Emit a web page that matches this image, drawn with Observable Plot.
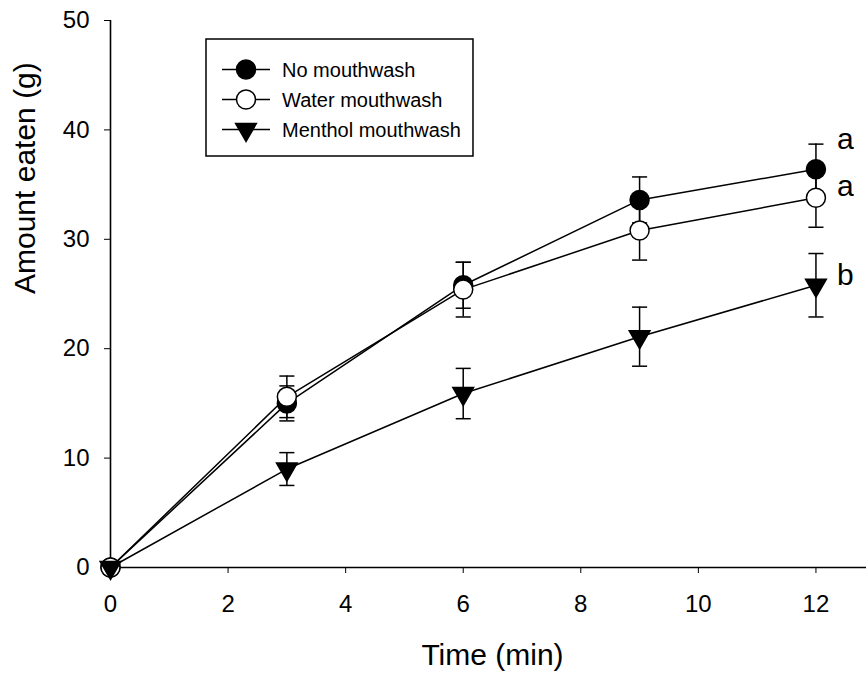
<!DOCTYPE html>
<html><head><meta charset="utf-8">
<script src="https://cdn.jsdelivr.net/npm/d3@7"></script>
<script src="https://cdn.jsdelivr.net/npm/@observablehq/plot@0.6"></script>
<style>body{margin:0;background:#fff;} svg{display:block;}</style>
</head><body><div id="chart"></div>
<script>
// ---- data ----
const times = [0, 3, 6, 9, 12];
const seriesNames = ["No mouthwash", "Water mouthwash", "Menthol mouthwash"];
const noMouthwash      = [0, 15.0, 25.8, 33.6, 36.4];
const noMouthwashSE    = [0, 1.6, 2.1, 2.1, 2.3];
const waterMouthwash   = [0, 15.6, 25.4, 30.8, 33.8];
const waterMouthwashSE = [0, 1.9, 2.5, 2.7, 2.7];
const mentholMouthwash   = [0, 9.0, 15.9, 21.1, 25.8];
const mentholMouthwashSE = [0, 1.5, 2.3, 2.7, 2.9];
const sigLetters = ["a", "a", "b"];
const xTicks = [0, 2, 4, 6, 8, 10, 12];
const yTicks = [0, 10, 20, 30, 40, 50];
const xDomain = [0, 12.86];
const yDomain = [0, 50];
const xLabel = "Time (min)";
const yLabel = "Amount eaten (g)";

// ---- build table ----
const means = [noMouthwash, waterMouthwash, mentholMouthwash];
const ses = [noMouthwashSE, waterMouthwashSE, mentholMouthwashSE];
const data = seriesNames.flatMap((s, i) => times.map((t, j) => ({series: s, t, mean: means[i][j], se: ses[i][j]})));
const last = times.length - 1;
const lastPoints = seriesNames.map((s, i) => ({series: s, t: times[last], mean: means[i][last], letter: sigLetters[i]}));

const downTriangle = {draw(ctx, size) {
  const y = Math.sqrt(size / (3 * Math.sqrt(3)));
  ctx.moveTo(0, 2 * y); ctx.lineTo(-Math.sqrt(3) * y, -y); ctx.lineTo(Math.sqrt(3) * y, -y); ctx.closePath();
}};
const capSymbol = {draw(ctx, size) {
  const w = Math.sqrt(size);
  ctx.moveTo(-w / 2, 0); ctx.lineTo(w / 2, 0);
}};
const styles = [
  {fill: "black", symbol: "circle", r: 9.5},
  {fill: "white", symbol: "circle", r: 9.5},
  {fill: "black", symbol: downTriangle, r: 7.7}
];
const letterDy = [-20, -2, 0];
const FONT = "'Liberation Sans', Arial, Helvetica, sans-serif";

const markerMarks = seriesNames.map((s, i) => Plot.dot(data.filter(d => d.series === s), {
  x: "t", y: "mean", symbol: styles[i].symbol, r: styles[i].r, fill: styles[i].fill, stroke: "black", strokeWidth: 1.5
}));
const letterMarks = seriesNames.map((s, i) => Plot.text(lastPoints.filter(d => d.series === s), {
  x: "t", y: "mean", text: "letter", dx: 21, dy: letterDy[i], textAnchor: "start", lineAnchor: "bottom", fontSize: 30, fill: "black"
}));

const svg = Plot.plot({
  width: 866, height: 673,
  marginLeft: 110, marginRight: 0, marginTop: 20, marginBottom: 106,
  style: {fontFamily: FONT, fontSize: "24px", color: "black", background: "white"},
  x: {domain: xDomain, ticks: xTicks, tickSize: 6, tickPadding: 21, label: null},
  y: {domain: yDomain, ticks: yTicks, tickSize: 6, tickPadding: 15, label: null},
  marks: [
    Plot.ruleX([xDomain[0]], {y1: yDomain[0], y2: yDomain[1], stroke: "black", strokeWidth: 1.6}),
    Plot.ruleY([yDomain[0]], {x1: xDomain[0], x2: xDomain[1], stroke: "black", strokeWidth: 1.6}),
    Plot.line(data, {x: "t", y: "mean", z: "series", stroke: "black", strokeWidth: 1.5}),
    Plot.ruleX(data, {x: "t", y1: d => d.mean - d.se, y2: d => d.mean + d.se, stroke: "black", strokeWidth: 1.5}),
    Plot.dot(data, {x: "t", y: d => d.mean - d.se, symbol: capSymbol, r: 8.5, fill: "none", stroke: "black", strokeWidth: 1.5}),
    Plot.dot(data, {x: "t", y: d => d.mean + d.se, symbol: capSymbol, r: 8.5, fill: "none", stroke: "black", strokeWidth: 1.5}),
    ...markerMarks,
    ...letterMarks,
    Plot.text([yLabel], {frameAnchor: "left", text: d => d, rotate: -90, dx: -85.5, lineAnchor: "middle", fontSize: 30, fill: "black"}),
    Plot.text([xLabel], {frameAnchor: "bottom", text: d => d, dx: 4, dy: 97, lineAnchor: "bottom", fontSize: 30, fill: "black"})
  ]
});
document.getElementById("chart").appendChild(svg);

// ---- legend box (inside the SVG) ----
const lg = d3.select(svg).append("g").attr("font-family", FONT);
const box = {x: 206, y: 39, h: 117, rowY0: 69.5, rowStep: 30, lineX1: 222, lineX2: 270, textX: 282, padRight: 12};
const sym = d3.symbol();
const items = lg.selectAll("g.item").data(seriesNames).join("g")
  .attr("transform", (d, i) => `translate(0,${box.rowY0 + i * box.rowStep})`);
items.append("line").attr("x1", box.lineX1).attr("x2", box.lineX2).attr("stroke", "black").attr("stroke-width", 1.5);
items.append("path")
  .attr("transform", `translate(${(box.lineX1 + box.lineX2) / 2},0)`)
  .attr("d", (d, i) => sym.type(styles[i].symbol === "circle" ? d3.symbolCircle : downTriangle).size(styles[i].r * styles[i].r * Math.PI)())
  .attr("fill", (d, i) => styles[i].fill).attr("stroke", "black").attr("stroke-width", 1.5);
const texts = items.append("text").attr("x", box.textX).attr("dy", "0.35em")
  .attr("text-anchor", "start").style("text-anchor", "start")
  .attr("font-size", 20).style("font-size", "20px").attr("fill", "black").text(d => d);
let maxEnd = 0;
texts.each(function() { maxEnd = Math.max(maxEnd, box.textX + this.getComputedTextLength()); });
lg.insert("rect", ":first-child").attr("x", box.x).attr("y", box.y)
  .attr("width", maxEnd + box.padRight - box.x).attr("height", box.h)
  .attr("fill", "white").attr("stroke", "black").attr("stroke-width", 1.5);
</script>
</body></html>
